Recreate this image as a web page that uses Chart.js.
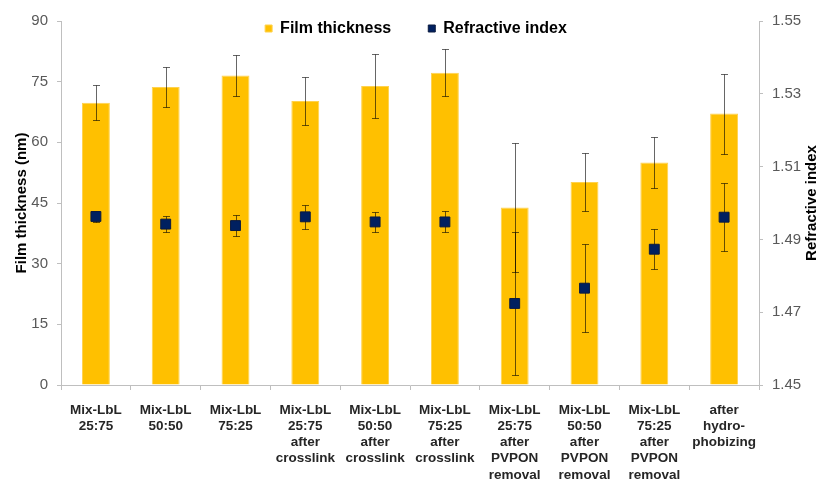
<!DOCTYPE html>
<html>
<head>
<meta charset="utf-8">
<script src="https://cdn.jsdelivr.net/npm/chart.js@4.4.1/dist/chart.umd.min.js"></script>
<style>
  html, body { margin: 0; padding: 0; background: #fff; }
  #wrap { width: 823px; height: 479px; }
</style>
</head>
<body>
<div id="wrap"><canvas id="filmChart" width="823" height="479"></canvas></div>
<script>
var categories = [
    ["Mix-LbL", "25:75"],
    ["Mix-LbL", "50:50"],
    ["Mix-LbL", "75:25"],
    ["Mix-LbL", "25:75", "after", "crosslink"],
    ["Mix-LbL", "50:50", "after", "crosslink"],
    ["Mix-LbL", "75:25", "after", "crosslink"],
    ["Mix-LbL", "25:75", "after", "PVPON", "removal"],
    ["Mix-LbL", "50:50", "after", "PVPON", "removal"],
    ["Mix-LbL", "75:25", "after", "PVPON", "removal"],
    ["after", "hydro-", "phobizing"]
];

var thickness = [69.8, 73.7, 76.5, 70.2, 73.9, 77.2, 43.9, 50.2, 55.0, 67.1];
var thicknessErr = [4.3, 5.0, 5.0, 6.0, 8.0, 5.8, 16.0, 7.1, 6.4, 9.9];

var refractive = [1.4963, 1.4942, 1.4938, 1.4962, 1.4948, 1.4948, 1.4724, 1.4766, 1.4873, 1.4961];
var refractiveErr = [0.0016, 0.0023, 0.0030, 0.0033, 0.0027, 0.0029, 0.0196, 0.0120, 0.0055, 0.0093];

var thicknessTicks = [0, 15, 30, 45, 60, 75, 90];
var refractiveTicks = [1.45, 1.47, 1.49, 1.51, 1.53, 1.55];

var fontFamily = 'Arial, "Liberation Sans", sans-serif';
var axisGray = '#bfbfbf';

// whiskers for both series, drawn just before the squares so they sit on top
function drawWhiskers(chart, datasetIndex, values, errs, scale) {
    var ctx = chart.ctx;
    var meta = chart.getDatasetMeta(datasetIndex);
    meta.data.forEach(function (el, i) {
        var x = Math.round(el.x) + 0.5;
        var top = Math.round(scale.getPixelForValue(values[i] + errs[i])) + 0.5;
        var bottom = Math.round(scale.getPixelForValue(values[i] - errs[i])) + 0.5;
        ctx.beginPath();
        ctx.moveTo(x, top);
        ctx.lineTo(x, bottom);
        ctx.moveTo(x - 3.5, top);
        ctx.lineTo(x + 3.5, top);
        ctx.moveTo(x - 3.5, bottom);
        ctx.lineTo(x + 3.5, bottom);
        ctx.stroke();
    });
}

var errorBars = {
    id: 'errorBars',
    beforeDatasetDraw: function (chart, args) {
        if (args.index !== 1) return;
        var ctx = chart.ctx;
        ctx.save();
        ctx.strokeStyle = 'rgba(0,0,0,0.6)';
        ctx.lineWidth = 1;
        drawWhiskers(chart, 0, thickness, thicknessErr, chart.scales.y);
        drawWhiskers(chart, 1, refractive, refractiveErr, chart.scales.y2);
        ctx.restore();
    }
};

// legend floats inside the plot area instead of taking its own row
var floatingLegend = {
    id: 'floatingLegend',
    beforeLayout: function (chart) {
        var legend = chart.legend;
        if (!legend || legend._floating) return;
        var fit = legend.fit;
        legend.fit = function () {
            fit.call(this);
            this.height = 0;
        };
        legend._floating = true;
    },
    afterLayout: function (chart) {
        chart.legend.top = -16.5;
        chart.legend.bottom = 60;
    }
};

// right axis title reads bottom-to-top like the left one
var rightTitle = {
    id: 'rightTitle',
    afterDraw: function (chart) {
        var ctx = chart.ctx;
        var area = chart.chartArea;
        ctx.save();
        ctx.translate(812, (area.top + area.bottom) / 2);
        ctx.rotate(-Math.PI / 2);
        ctx.font = 'bold 15px ' + fontFamily;
        ctx.fillStyle = '#000';
        ctx.textAlign = 'center';
        ctx.textBaseline = 'middle';
        ctx.fillText('Refractive index', 0, 0);
        ctx.restore();
    }
};

var chartData = {
    labels: categories,
    datasets: [
        {
            type: 'bar',
            label: 'Film thickness',
            data: thickness,
            yAxisID: 'y',
            order: 1,
            backgroundColor: '#FFC000',
            borderColor: '#FFD24D',
            borderWidth: 1,
            categoryPercentage: 1,
            barPercentage: 0.4
        },
        {
            type: 'line',
            label: 'Refractive index',
            data: refractive,
            yAxisID: 'y2',
            order: 0,
            showLine: false,
            pointStyle: 'rect',
            pointRadius: 7,
            pointHoverRadius: 7,
            backgroundColor: '#002060',
            borderColor: '#0B1A3F',
            borderWidth: 1
        }
    ]
};

var chartOptions = {
    responsive: false,
    animation: false,
    devicePixelRatio: 1,
    layout: { padding: { left: 9, right: 0, top: 21, bottom: -16 } },
    plugins: {
        tooltip: { enabled: false },
        legend: {
            position: 'top',
            labels: {
                boxWidth: 7,
                boxHeight: 7,
                padding: 37,
                color: '#000',
                font: { family: fontFamily, size: 16, weight: 'bold' },
                sort: function (a, b) { return a.datasetIndex - b.datasetIndex; }
            }
        }
    },
    scales: {
        x: {
            grid: { display: true, drawOnChartArea: false, drawTicks: true, tickLength: 5, color: axisGray, offset: true },
            border: { display: true, color: axisGray },
            ticks: {
                autoSkip: false,
                maxRotation: 0,
                padding: 12,
                color: '#262626',
                font: { family: fontFamily, size: 13.5, weight: 'bold', lineHeight: 1.2 }
            }
        },
        y: {
            position: 'left',
            min: 0,
            max: 90,
            afterBuildTicks: function (axis) {
                axis.ticks = thicknessTicks.map(function (v) { return { value: v }; });
            },
            afterFit: function (axis) {
                axis.width = 52;
            },
            grid: { display: true, drawOnChartArea: false, drawTicks: true, tickLength: 4, color: axisGray },
            border: { display: true, color: axisGray },
            ticks: {
                padding: 9,
                color: '#595959',
                font: { family: fontFamily, size: 15 },
                callback: function (v) { return String(v); }
            },
            title: {
                display: true,
                text: 'Film thickness (nm)',
                color: '#000',
                padding: { top: 4, bottom: 2 },
                font: { family: fontFamily, size: 15, weight: 'bold' }
            }
        },
        y2: {
            position: 'right',
            min: 1.45,
            max: 1.55,
            afterBuildTicks: function (axis) {
                axis.ticks = refractiveTicks.map(function (v) { return { value: v }; });
            },
            afterFit: function (axis) {
                axis.width = 64;
            },
            grid: { display: true, drawOnChartArea: false, drawTicks: true, tickLength: 4, color: axisGray },
            border: { display: true, color: axisGray },
            ticks: {
                padding: 9,
                color: '#595959',
                font: { family: fontFamily, size: 15 },
                callback: function (v) { return Number(v).toFixed(2); }
            }
        }
    }
};

var ctx = document.getElementById("filmChart").getContext("2d");
new Chart(ctx, {
    data: chartData,
    options: chartOptions,
    plugins: [errorBars, floatingLegend, rightTitle]
});
</script>
</body>
</html>
